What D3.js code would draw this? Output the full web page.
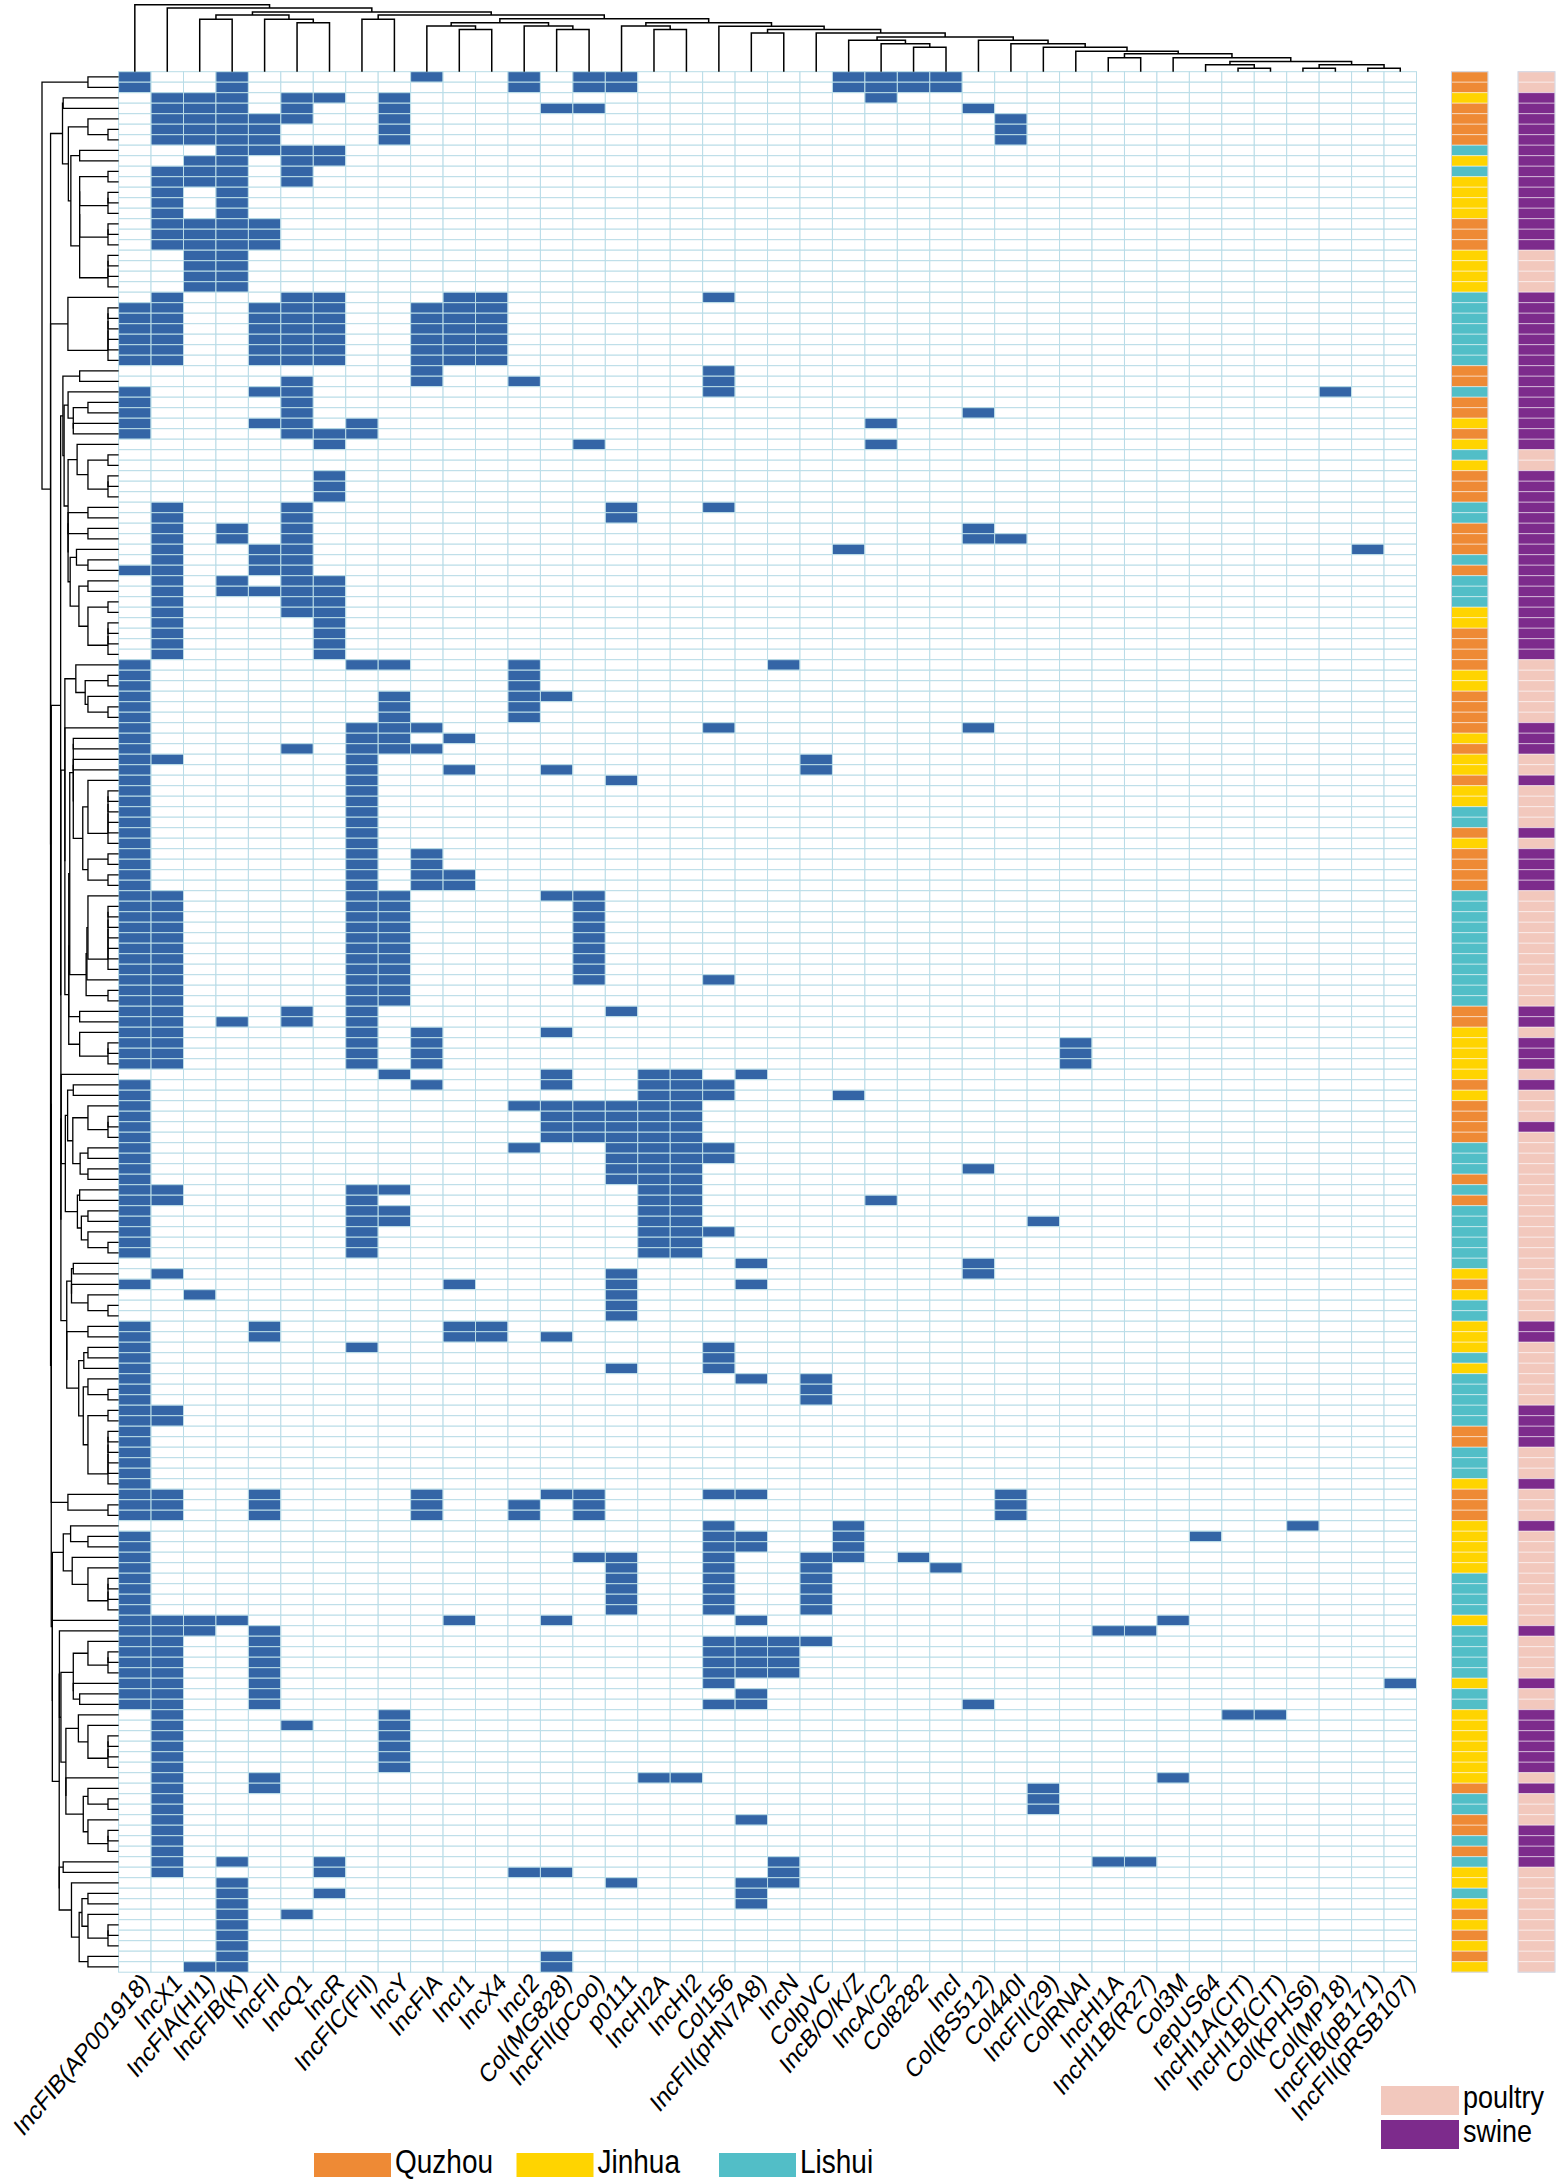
<!DOCTYPE html>
<html><head><meta charset="utf-8">
<script src="https://cdn.jsdelivr.net/npm/d3@7"></script>
<style>body{margin:0;background:#fff}</style>
</head><body>
<svg id="chart" width="1559" height="2181"></svg>
<script>
// ---------------- DATA ----------------
const plasmids = ["IncFIB(AP001918)","IncX1","IncFIA(HI1)","IncFIB(K)","IncFII","IncQ1","IncR","IncFIC(FII)","IncY","IncFIA",
"IncI1","IncX4","IncI2","Col(MG828)","IncFII(pCoo)","p0111","IncHI2A","IncHI2","Col156","IncFII(pHN7A8)",
"IncN","ColpVC","IncB/O/K/Z","IncA/C2","Col8282","IncI","Col(BS512)","Col440I","IncFII(29)","ColRNAI",
"IncHI1A","IncHI1B(R27)","Col3M","repUS64","IncHI1A(CIT)","IncHI1B(CIT)","Col(KPHS6)","Col(MP18)","IncFIB(pB171)","IncFII(pRSB107)"];

// presence: for each isolate (row, top to bottom), indices of plasmid replicons present
const presence = [
[0,3,9,12,14,15,22,23,24,25],[0,3,12,14,15,22,23,24,25],[1,2,3,5,6,8,23],[1,2,3,5,8,13,14,26],[1,2,3,4,5,8,27],
[1,2,3,4,8,27],[1,2,3,4,8,27],[3,4,5,6],[2,3,5,6],[1,2,3,5],
[1,2,3,5],[1,3],[1,3],[1,3],[1,2,3,4],
[1,2,3,4],[1,2,3,4],[2,3],[2,3],[2,3],
[2,3],[1,5,6,10,11,18],[0,1,4,5,6,9,10,11],[0,1,4,5,6,9,10,11],[0,1,4,5,6,9,10,11],
[0,1,4,5,6,9,10,11],[0,1,4,5,6,9,10,11],[0,1,4,5,6,9,10,11],[9,18],[5,9,12,18],
[0,4,5,18,37],[0,5],[0,5,26],[0,4,5,7,23],[0,5,6,7],
[6,14,23],[],[],[6],[6],
[6],[1,5,15,18],[1,5,15],[1,3,5,26],[1,3,5,26,27],
[1,4,5,22,38],[1,4,5],[0,1,4,5],[1,3,5,6],[1,3,4,5,6],
[1,5,6],[1,5,6],[1,6],[1,6],[1,6],
[1,6],[0,7,8,12,20],[0,12],[0,12],[0,8,12,13],
[0,8,12],[0,8,12],[0,7,8,9,18,26],[0,7,8,10],[0,5,7,8,9],
[0,1,7,21],[0,7,10,13,21],[0,7,15],[0,7],[0,7],
[0,7],[0,7],[0,7],[0,7],[0,7,9],
[0,7,9],[0,7,9,10],[0,7,9,10],[0,1,7,8,13,14],[0,1,7,8,14],
[0,1,7,8,14],[0,1,7,8,14],[0,1,7,8,14],[0,1,7,8,14],[0,1,7,8,14],
[0,1,7,8,14],[0,1,7,8,14,18],[0,1,7,8],[0,1,7,8],[0,1,5,7,15],
[0,1,3,5,7],[0,1,7,9,13],[0,1,7,9,29],[0,1,7,9,29],[0,1,7,9,29],
[8,13,16,17,19],[0,9,13,16,17,18],[0,16,17,18,22],[0,12,13,14,15,16,17],[0,13,14,15,16,17],
[0,13,14,15,16,17],[0,13,14,15,16,17],[0,12,15,16,17,18],[0,15,16,17,18],[0,15,16,17,26],
[0,15,16,17],[0,1,7,8,16,17],[0,1,7,16,17,23],[0,7,8,16,17],[0,7,8,16,17,28],
[0,7,16,17,18],[0,7,16,17],[0,7,16,17],[19,26],[1,15,26],
[0,10,15,19],[2,15],[15],[15],[0,4,10,11],
[0,4,10,11,13],[0,7,18],[0,18],[0,15,18],[0,19,21],
[0,21],[0,21],[0,1],[0,1],[0],
[0],[0],[0],[0],[0],
[0,1,4,9,13,14,18,19,27],[0,1,4,9,12,14,27],[0,1,4,9,12,14,27],[18,22,36],[0,18,19,22,33],
[0,18,19,22],[0,14,15,18,21,22,24],[0,15,18,21,25],[0,15,18,21],[0,15,18,21],
[0,15,18,21],[0,15,18,21],[0,1,2,3,10,13,19,32],[0,1,2,4,30,31],[0,1,4,18,19,20,21],
[0,1,4,18,19,20],[0,1,4,18,19,20],[0,1,4,18,19,20],[0,1,4,18,39],[0,1,4,19],
[0,1,4,18,19,26],[1,8,34,35],[1,5,8],[1,8],[1,8],
[1,8],[1,8],[1,4,16,17,32],[1,4,28],[1,28],
[1,28],[1,19],[1],[1],[1],
[1,3,6,20,30,31],[1,6,12,13,20],[3,15,19,20],[3,6,19],[3,19],
[3,5],[3],[3],[3],[3,13],
[2,3,13]
];

// region of each isolate (Q = Quzhou, J = Jinhua, L = Lishui)
const regionCodes = ("QQJQQQQLJL"+"JJJJQQQJJJ"+"JLLLLLLLQQ"+"LQQJQJLJQQ"+"QLLQQQLQLL"+
  "LJJQQQQJJQ"+"QQQJQJJQJJ"+"LLQJQQQQLL"+"LLLLLLLLLQ"+"QJJJJJQJQQ"+
  "QQLLLQLQLL"+"LLLLJQJLLJ"+"JJLJLLLLLQ"+"QLLLJQQQJJ"+"JJJLLLLJLL"+
  "LLLJLLJJJJ"+"JJJQLLQQLQ"+"LJJLJQJQJQJ").split("");
// host of each isolate (P = poultry, S = swine)
const hostCodes = ("PPSSSSSSSS"+"SSSSSSSPPP"+"PSSSSSSSSS"+"SSSSSSPPSS"+"SSSSSSSSSS"+
  "SSSSSSPPPP"+"PPSSSPPSPP"+"PPSPSSSSPP"+"PPPPPPPPPS"+"SPSSSPSPPP"+
  "SPPPPPPPPP"+"PPPPPPPPPS"+"SPPPPPPSSS"+"SPPPSPPPSP"+"PPPPPPPPSP"+
  "PPPSPPSSSS"+"SSPSPPPSSS"+"SPPPPPPPPPP").split("");

const regionNames = ["Quzhou","Jinhua","Lishui"];
const regionKeys  = ["Q","J","L"];
const hostNames   = ["poultry","swine"];
const hostKeys    = ["P","S"];

// column dendrogram: [mergeHeight, left, right]; numbers = column index
const colTree =
 [66.3, 0, [63, 1, [59,
   [56, [52, 2, 3], [52, 4, [48.5, 5, 6]]],
   [56, [52, 7, 8],
     [52.3,
       [48.5, [45.3, 9, [41.7, 10, 11]], [45.3, 12, [41.7, 13, 14]]],
       [48.5, [45.3, 15, [41.7, 16, 17]],
         [45, 18, [41.7, [38.3, 19, 20],
           [38.3, 21, [34.3,
             [31, 22, [27.7, 23, [24.3, 24, 25]]],
             [31, 26, [27.7, 27, [24.3, 28, [20.3, 29,
               [17.7, [13.7, 30, 31], [13.7, 32,
                 [10, [7, 33, [3.3, 34, 35]], [7, [3.3, 36, 37], [3.3, 38, 39]]]]]]]]]]]]]]]]]]];

// ---------------- DRAWING ----------------
const colors = {
  cellOn: "#3465a6", cellOff: "#ffffff", grid: "#b9dce7",
  Q: "#ee8a35", J: "#ffd400", L: "#52bec7",
  P: "#f2c8bd", S: "#7d2b8c"
};

const svg = d3.select("#chart");
svg.append("rect").attr("width",1559).attr("height",2181).attr("fill","#fff");

const hmLeft = 118.6, hmRight = 1416.5, hmTop = 71.7, hmBottom = 1972.2;
const nR = presence.length, nC = plasmids.length;

const x = d3.scaleBand().domain(d3.range(nC)).range([hmLeft, hmRight]);
const y = d3.scaleBand().domain(d3.range(nR)).range([hmTop, hmBottom]);

// cells
const cells = [];
presence.forEach((row, i) => {
  const set = new Set(row);
  for (let j = 0; j < nC; j++) cells.push({i, j, v: set.has(j) ? 1 : 0});
});
const fillScale = d3.scaleOrdinal().domain([0,1]).range([colors.cellOff, colors.cellOn]);
svg.append("g").selectAll("rect").data(cells).join("rect")
  .attr("x", d => x(d.j)).attr("y", d => y(d.i))
  .attr("width", x.bandwidth()).attr("height", y.bandwidth())
  .attr("fill", d => fillScale(d.v))
  .attr("stroke", colors.grid).attr("stroke-width", 1);

// annotation bars
const regionColor = d3.scaleOrdinal().domain(regionKeys).range([colors.Q, colors.J, colors.L]);
const hostColor = d3.scaleOrdinal().domain(hostKeys).range([colors.P, colors.S]);
const bars = [
  {x0: 1451.5, x1: 1488, codes: regionCodes, scale: regionColor},
  {x0: 1518, x1: 1555, codes: hostCodes, scale: hostColor}
];
bars.forEach(b => {
  svg.append("g").selectAll("rect").data(b.codes).join("rect")
    .attr("x", b.x0).attr("width", b.x1 - b.x0)
    .attr("y", (d, i) => y(i)).attr("height", y.bandwidth())
    .attr("fill", d => b.scale(d))
    .attr("stroke", "rgba(255,255,255,0.45)").attr("stroke-width", 1);
  svg.append("rect").attr("x", b.x0).attr("y", hmTop).attr("width", b.x1 - b.x0)
    .attr("height", hmBottom - hmTop).attr("fill","none")
    .attr("stroke","#cfd3e0").attr("stroke-width",1);
});

// ---- column dendrogram (top) ----
function buildTree(t) {
  return (typeof t === "number") ? {leaf: t, h: 0} : {h: t[0], children: [buildTree(t[1]), buildTree(t[2])]};
}
const colRoot = d3.hierarchy(buildTree(colTree));
const colH = d3.scaleLinear().domain([0, colTree[0]]).range([hmTop, 4.7]);
colRoot.eachAfter(n => {
  if (!n.children) { n.px = x(n.data.leaf) + x.bandwidth()/2; n.py = hmTop; }
  else { n.px = d3.mean(n.children, c => c.px); n.py = colH(n.data.h); }
});
const topPaths = [];
colRoot.each(n => {
  if (n.children) {
    const [a, b] = n.children;
    topPaths.push(`M${a.px},${a.py}V${n.py}H${b.px}V${b.py}`);
  }
});
svg.append("g").selectAll("path").data(topPaths).join("path")
  .attr("d", d => d).attr("fill","none").attr("stroke","#000").attr("stroke-width",1.5);

// ---- row dendrogram (left): order-preserving average-linkage clustering of the rows ----
const vecs = presence.map(r => { const v = new Array(nC).fill(0); r.forEach(c => v[c] = 1); return v; });
const dist = vecs.map(a => vecs.map(b => Math.sqrt(d3.sum(a, (v, k) => (v - b[k]) ** 2))));
let clusters = d3.range(nR).map(i => ({members: [i], node: {leaf: i, h: 0}}));
while (clusters.length > 1) {
  let bi = 0, bd = Infinity;
  for (let k = 0; k < clusters.length - 1; k++) {
    const A = clusters[k].members, B = clusters[k+1].members;
    let s = 0;
    for (const p of A) for (const q of B) s += dist[p][q];
    const d = s / (A.length * B.length);
    if (d < bd - 1e-9) { bd = d; bi = k; }
  }
  const A = clusters[bi], B = clusters[bi+1];
  const h = Math.max(bd, A.node.h, B.node.h);
  clusters.splice(bi, 2, {members: A.members.concat(B.members), node: {h, children: [A.node, B.node]}});
}
const rowRoot = d3.hierarchy(clusters[0].node);
const rowH = d3.scaleLinear().domain([0, clusters[0].node.h]).range([108, 42]);
rowRoot.eachAfter(n => {
  if (!n.children) { n.px = hmLeft; n.py = y(n.data.leaf) + y.bandwidth()/2; }
  else { n.py = d3.mean(n.children, c => c.py); n.px = rowH(n.data.h); }
});
const leftPaths = [];
rowRoot.each(n => {
  if (n.children) {
    const [a, b] = n.children;
    leftPaths.push(`M${a.px},${a.py}H${n.px}V${b.py}H${b.px}`);
  }
});
svg.append("g").selectAll("path").data(leftPaths).join("path")
  .attr("d", d => d).attr("fill","none").attr("stroke","#000").attr("stroke-width",1.3);

// ---- column labels (rotated, slightly tall letterforms as in the figure) ----
const font = "'Liberation Sans', Arial, sans-serif";
svg.append("g").selectAll("text").data(plasmids).join("text")
  .attr("transform", (d, j) => `translate(${x(j) + x.bandwidth()/2 + 16},${1984}) scale(1,1.2) rotate(-45)`)
  .attr("text-anchor","end")
  .style("font-family", font).style("font-size","22px").attr("fill","#000")
  .text(d => d);

// ---- legends ----
const regLeg = svg.append("g");
regionNames.forEach((name, i) => {
  const gx = 314 + i * 202.5;
  regLeg.append("rect").attr("x", gx).attr("y", 2153).attr("width", 77).attr("height", 24)
    .attr("fill", regionColor(regionKeys[i]));
  regLeg.append("text").attr("transform", `translate(${gx + 81},2173) scale(1,1.2)`)
    .style("font-family", font).style("font-size","28px").text(name);
});
const hostLeg = svg.append("g");
hostNames.forEach((name, i) => {
  const gy = 2086 + i * 34;
  hostLeg.append("rect").attr("x", 1381).attr("y", gy).attr("width", 78).attr("height", 29)
    .attr("fill", hostColor(hostKeys[i]));
  hostLeg.append("text").attr("transform", `translate(1463,${gy + 22}) scale(1,1.15)`)
    .style("font-family", font).style("font-size","27px").text(name);
});
</script>
</body></html>
